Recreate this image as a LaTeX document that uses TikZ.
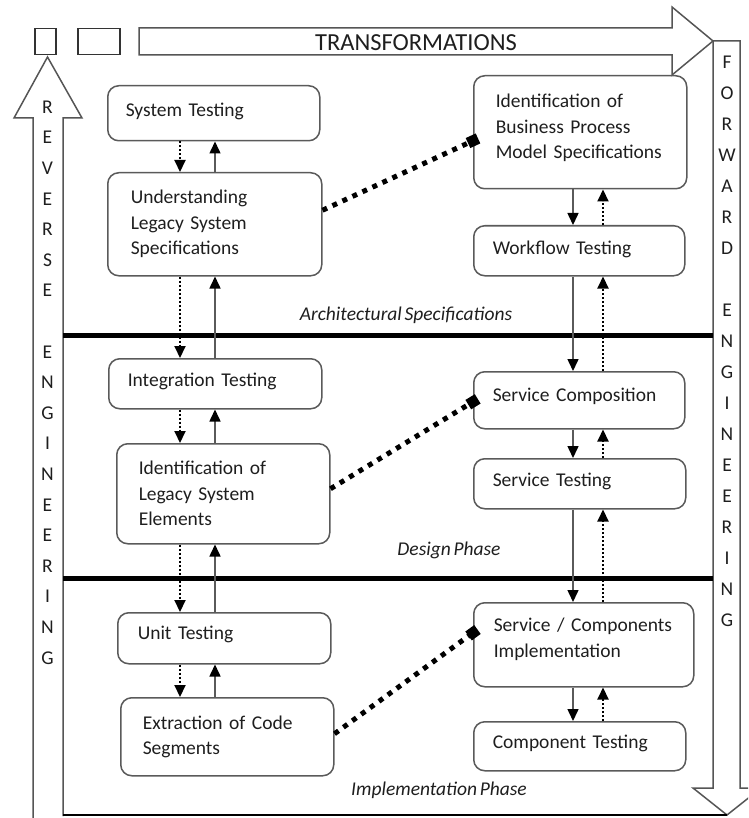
\documentclass[tikz,border=0pt]{standalone}
\usepackage{fontspec}
\setmainfont[WordSpace=0.6]{Carlito}
\usetikzlibrary{arrows.meta}
\definecolor{edge}{HTML}{5A5A5A}
\definecolor{ink}{HTML}{1E1E1E}
\definecolor{outline}{HTML}{555555}

\begin{document}
\begin{tikzpicture}[x=1pt,y=-1pt,
  box/.style={draw=edge, line width=1.5pt, rounded corners=11pt, anchor=north west,
    align=left, inner xsep=0pt, inner ysep=0pt, text=ink,
    font=\fontsize{19.5}{25.5}\selectfont},
  sz/.style n args={3}{minimum width=#1, minimum height=#2, text width=#3},
  letter/.style={text=ink, font=\fontsize{19.5}{22}\selectfont, inner sep=0pt},
  phase/.style={text=ink, font=\fontsize{19.5}{22}\selectfont\itshape, inner sep=0pt},
  tip/.style={-{Triangle[length=12pt,width=11pt,color=black]}},
  solidarrow/.style={tip, draw=edge, line width=1.5pt},
  dotarrow/.style={tip, draw=black, line width=2pt, dash pattern=on 2pt off 2pt},
  link/.style={draw=black, line width=5pt, dash pattern=on 5pt off 6pt,
    -{Square[length=11pt,width=11pt]}, shorten >=-5.5pt},
  bigarrow/.style={draw=outline, line width=1.5pt, line join=miter},
  divider/.style={draw=black, line width=5pt}]

\useasboundingbox (0,0) rectangle (748,818);
\clip (0,0) rectangle (748,818);

% top-left marker boxes
\node[draw=black!80, line width=1.5pt, minimum width=21pt, minimum height=26pt,
  inner sep=0pt, anchor=north west] (m1) at (34,28) {};
\node[draw=black!80, line width=1.5pt, minimum width=42pt, minimum height=26pt,
  inner sep=0pt, anchor=north west] (m2) at (77,28) {};

% transformations arrow
\draw[bigarrow] (139,28) -- (672,28) -- (672,7) -- (713,41) -- (672,75)
  -- (672,55) -- (139,55) -- cycle;
\node[text=ink, font=\fontsize{24.5}{28}\selectfont, inner sep=0pt] (trans) at (416,43) {TRANSFORMATIONS};

% reverse engineering arrow (its right edge bounds the frame)
\draw[bigarrow] (33,830) -- (33,118) -- (14,118) -- (47.5,57) -- (82,118)
  -- (63,118) -- (63,816);
\foreach \l [count=\i from 0] in {R,E,V,E,R,S,E}
  \node[letter] (rev\i) at (47.5,107+\i*30.6) {\l};
\foreach \l [count=\i from 8] in {E,N,G,I,N,E,E,R,I,N,G}
  \node[letter] (reng\i) at (47.5,107+\i*30.6) {\l};

% forward engineering arrow
\draw[bigarrow] (713,41) -- (740,41) -- (740,788) -- (761,788) -- (727,815)
  -- (693,788) -- (713,788) -- cycle;
\foreach \l [count=\i from 0] in {F,O,R,W,A,R,D}
  \node[letter] (fwd\i) at (727,62+\i*31) {\l};
\foreach \l [count=\i from 8] in {E,N,G,I,N,E,E,R,I,N,G}
  \node[letter] (feng\i) at (727,62+\i*31) {\l};

% phase dividers and base line
\draw[divider] (63,335) -- (713,335);
\draw[divider] (63,578) -- (713,578);
\draw[draw=black, line width=2.5pt] (63,815) -- (727,815);

% phase labels
\node[phase] (arch) at (406,315) {Architectural Specifications};
\node[phase] (design) at (449,550) {Design Phase};
\node[phase] (impl) at (439,790) {Implementation Phase};

% reverse engineering column
\node[box, sz={212pt}{55pt}{176pt}, text depth=7.5pt] (st) at (107,85) {System Testing};
\node[box, sz={214pt}{103pt}{168pt}] (uls) at (107,172)
  {Understanding\\Legacy System\\Specifications};
\node[box, sz={213pt}{50pt}{175pt}, text depth=8.5pt] (it) at (108,358) {Integration Testing};
\node[box, sz={213pt}{100pt}{169pt}] (lse) at (116,443)
  {Identification of\\Legacy System\\Elements};
\node[box, sz={213pt}{51pt}{173pt}, text depth=10.5pt] (ut) at (117,612) {Unit Testing};
\node[box, sz={213pt}{78pt}{169pt}] (ecs) at (120,697)
  {Extraction of Code\\Segments};

% forward engineering column
\node[box, sz={213pt}{113pt}{169pt}, text depth=62.5pt] (bp) at (473,75)
  {Identification of\\Business Process\\Model Specifications};
\node[box, sz={211pt}{50pt}{173pt}, text depth=6.5pt] (wt) at (473,225) {Workflow Testing};
\node[box, sz={211pt}{57pt}{173pt}, text depth=11pt] (sc) at (473,371) {Service Composition};
\node[box, sz={212pt}{50pt}{174pt}, text depth=8.5pt] (stt) at (473,458) {Service Testing};
\node[box, sz={220pt}{84pt}{180pt}, text depth=40pt] (sci) at (473,602)
  {Service / Components\\Implementation};
\node[box, sz={212pt}{49pt}{174pt}, text depth=8.5pt] (ct) at (473,721) {Component Testing};

% connector columns
\coordinate (L1) at (180,0);
\coordinate (L2) at (215,0);
\coordinate (R1) at (573,0);
\coordinate (R2) at (603,0);

\foreach \a/\b in {st/uls, uls/it, it/lse, lse/ut, ut/ecs} {
  \draw[dotarrow] (\a.south -| L1) -- (\b.north -| L1);
  \draw[solidarrow] (\b.north -| L2) -- (\a.south -| L2);
}
\foreach \a/\b in {bp/wt, wt/sc, sc/stt, stt/sci, sci/ct} {
  \draw[solidarrow] (\a.south -| R1) -- (\b.north -| R1);
  \draw[dotarrow] (\b.north -| R2) -- (\a.south -| R2);
}

% links between the two columns
\draw[link] ([yshift=14pt]uls.east) -- ([yshift=-8.5pt]bp.west);
\draw[link] ([yshift=5pt]lse.east) -- ([yshift=-1.5pt]sc.west);
\draw[link] ([yshift=3pt]ecs.east) -- ([yshift=12pt]sci.west);

\end{tikzpicture}
\end{document}
